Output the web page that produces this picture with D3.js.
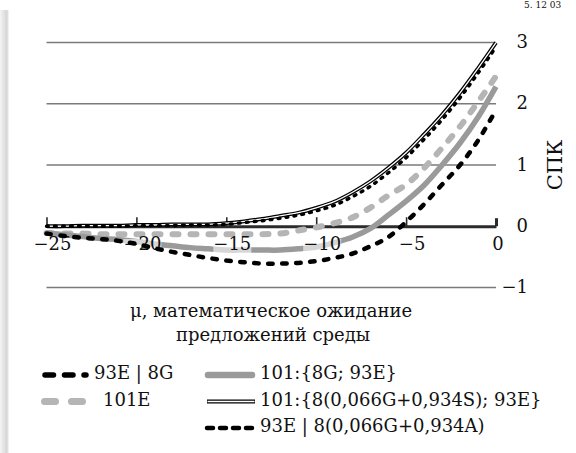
<!DOCTYPE html>
<html><head><meta charset="utf-8">
<script src="https://cdn.jsdelivr.net/npm/d3@7"></script>
<style>
html,body{margin:0;padding:0;background:#fff;}
svg{display:block;}
text{font-family:"DejaVu Serif",serif;fill:#111;}
</style></head>
<body>
<script>
// ---- data ----
const mu = [-25,-24,-23,-22,-21,-20,-19,-18,-17,-16,-15,-14,-13,-12,-11,-10,-9,-8,-7,-6,-5,-4,-3,-2,-1,0];
const s93E_8G = [-0.12,-0.16,-0.19,-0.21,-0.24,-0.29,-0.36,-0.42,-0.47,-0.52,-0.56,-0.59,-0.61,-0.61,-0.6,-0.57,-0.52,-0.45,-0.33,-0.18,0.07,0.36,0.68,1.0,1.4,1.9];
const s101E = [-0.11,-0.12,-0.12,-0.13,-0.13,-0.13,-0.13,-0.13,-0.13,-0.13,-0.13,-0.13,-0.13,-0.12,-0.07,-0.02,0.05,0.14,0.3,0.5,0.68,0.95,1.28,1.63,2.03,2.45];
const s101_8G_93E = [-0.11,-0.14,-0.17,-0.2,-0.22,-0.25,-0.29,-0.32,-0.35,-0.37,-0.39,-0.39,-0.39,-0.39,-0.37,-0.34,-0.27,-0.18,-0.04,0.18,0.41,0.67,1.0,1.36,1.78,2.28];
const s101_mixS = [0,0,0.01,0.01,0.01,0.02,0.02,0.03,0.03,0.03,0.05,0.08,0.12,0.17,0.22,0.3,0.4,0.55,0.73,0.95,1.2,1.5,1.82,2.18,2.58,3.0];
const s93E_mixA = [0,0,0,0,0,0.01,0.01,0.01,0.02,0.02,0.03,0.06,0.09,0.13,0.18,0.25,0.34,0.48,0.65,0.87,1.12,1.42,1.74,2.1,2.5,2.93];
const xTicks = [-25,-20,-15,-10,-5,0];
const xTickLabels = ["\u221225","\u221220","\u221215","\u221210","\u22125","0"];
const yTicks = [-1,0,1,2,3];
const yTickLabels = ["\u22121","0","1","2","3"];
const xTitle = ["\u03bc, математическое ожидание","предложений среды"];
const yTitle = "СПК";
const legendNames = ["93E | 8G","101E","101:{8G; 93E}","101:{8(0,066G+0,934S); 93E}","93E | 8(0,066G+0,934A)"];
const cornerText = "5. 12 03";

// ---- drawing ----
const W = 576, H = 453;
const svg = d3.select("body").append("svg").attr("width", W).attr("height", H);
const defs = svg.append("defs");
const g1 = defs.append("linearGradient").attr("id","shadow").attr("x1","0").attr("x2","1").attr("y1","0").attr("y2","0");
g1.append("stop").attr("offset","0").attr("stop-color","#f4f4f4");
g1.append("stop").attr("offset","0.75").attr("stop-color","#d6d6d6");
g1.append("stop").attr("offset","0.9").attr("stop-color","#e6e6e6");
g1.append("stop").attr("offset","1").attr("stop-color","#ffffff");
svg.append("rect").attr("x",0).attr("y",10).attr("width",9).attr("height",H-10).attr("fill","url(#shadow)");

svg.append("text").attr("x",524).attr("y",8).attr("font-size",9).attr("fill","#333").text(cornerText);

const x = d3.scaleLinear().domain([-25,0]).range([46.5,496]);
const y = d3.scaleLinear().domain([-1,3]).range([287.4,42.6]);

// gridlines
svg.append("g").selectAll("line").data(yTicks.filter(d=>d!==0)).join("line")
  .attr("x1",x(-25)).attr("x2",x(0)).attr("y1",d=>y(d)).attr("y2",d=>y(d))
  .attr("stroke","#7a7a7a").attr("stroke-width",1.5);

// x axis at 0 with ticks upward
const xAxis = d3.axisTop(x).tickValues(xTicks).tickSize(9).tickFormat("").tickSizeOuter(0);
const ax = svg.append("g").attr("transform",`translate(0,${y(0)})`).call(xAxis);
ax.select(".domain").attr("stroke","#2b2b2b").attr("stroke-width",3);
ax.selectAll(".tick line").attr("stroke","#2b2b2b").attr("stroke-width",1.6);
ax.selectAll(".tick").filter(d=>d===0).select("line").attr("stroke-width",3).attr("y2",-8);

// y labels (right)
svg.append("g").selectAll("text").data(yTicks).join("text")
  .attr("x",528).attr("y",d=>y(d)+5.5).attr("text-anchor","end").attr("font-size",18)
  .text((d,i)=>yTickLabels[i]);

const line = vals => d3.line().x((d,i)=>x(mu[i])).y(d=>y(d)).curve(d3.curveCatmullRom.alpha(0.5))(vals);

// series
svg.append("path").attr("d",line(s101E)).attr("fill","none").attr("stroke","#b5b5b5")
  .attr("stroke-width",6).attr("stroke-linecap","round").attr("stroke-dasharray","6,12");
svg.append("path").attr("d",line(s101_8G_93E)).attr("fill","none").attr("stroke","#9a9a9a")
  .attr("stroke-width",5.5);

// x tick labels with translucent boxes
const lab = svg.append("g");
xTicks.forEach((t,i)=>{
  const dx = t===0 ? 2 : 6;
  const tx = lab.append("text").attr("x",x(t)+dx).attr("y",250).attr("text-anchor","middle")
    .attr("font-size",18).text(xTickLabels[i]);
  const bb = tx.node().getBBox();
  lab.insert("rect","text").attr("x",bb.x).attr("y",239).attr("width",bb.width).attr("height",14)
    .attr("fill","#fff").attr("opacity",0.6);
});

svg.append("path").attr("d",line(s93E_8G)).attr("fill","none").attr("stroke","#000")
  .attr("stroke-width",4.5).attr("stroke-linecap","round").attr("stroke-dasharray","4.5,9.5");
svg.append("path").attr("d",line(s101_mixS)).attr("fill","none").attr("stroke","#000")
  .attr("stroke-width",3.8);
svg.append("path").attr("d",line(s101_mixS)).attr("fill","none").attr("stroke","#fff")
  .attr("stroke-width",1.3);
svg.append("path").attr("d",line(s93E_mixA)).attr("fill","none").attr("stroke","#000")
  .attr("stroke-width",3.4).attr("stroke-linecap","round").attr("stroke-dasharray","1.8,6.2");

// titles
svg.append("text").attr("transform",`translate(562,165) rotate(-90)`).attr("text-anchor","middle")
  .attr("font-size",21).text(yTitle);
svg.append("text").attr("x",271).attr("y",317).attr("text-anchor","middle").attr("font-size",18).text(xTitle[0]);
svg.append("text").attr("x",273).attr("y",341).attr("text-anchor","middle").attr("font-size",18).text(xTitle[1]);

// legend
const leg = svg.append("g");
const rows = [379,405.5,432];
function sym(x1,x2,yy,stroke,w,dash,cap){
  leg.append("line").attr("x1",x1).attr("x2",x2).attr("y1",yy).attr("y2",yy)
    .attr("stroke",stroke).attr("stroke-width",w)
    .attr("stroke-dasharray",dash||null).attr("stroke-linecap",cap||"butt");
}
// col 1
sym(45,86,rows[0]-4,"#000",5.5,"8.5,11","round");
leg.append("text").attr("x",94).attr("y",rows[0]).attr("font-size",18).text(legendNames[0]);
sym(44.5,84,rows[1]-4,"#b5b5b5",7,"11,16","round");
leg.append("text").attr("x",103).attr("y",rows[1]).attr("font-size",18).text(legendNames[1]);
// col 2
sym(208,252,rows[0]-4,"#9a9a9a",6.5,null,"round");
leg.append("text").attr("x",260).attr("y",rows[0]).attr("font-size",18).text(legendNames[2]);
sym(207,255,rows[1]-4,"#000",4.2);
sym(207.5,254.5,rows[1]-4,"#fff",1.5);
leg.append("text").attr("x",260).attr("y",rows[1]).attr("font-size",18).text(legendNames[3]);
sym(207,253,rows[2]-4,"#000",4.5,"6,7","round");
leg.append("text").attr("x",260).attr("y",rows[2]).attr("font-size",18).text(legendNames[4]);
</script>
</body></html>
